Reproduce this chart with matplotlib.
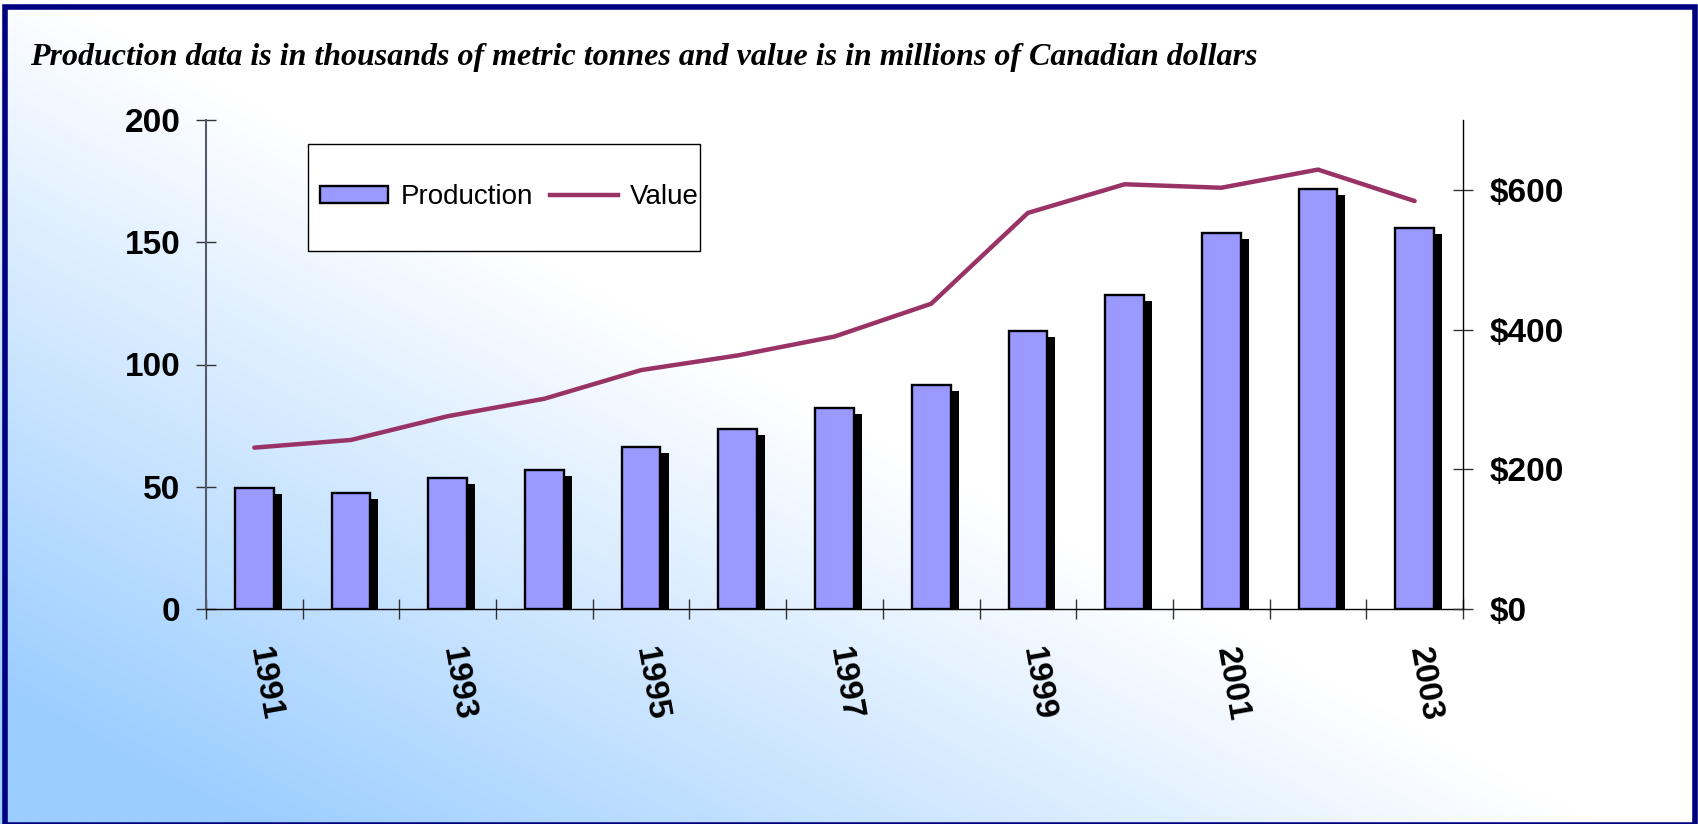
import numpy as np
import matplotlib
matplotlib.use("Agg")
import matplotlib.pyplot as plt
import matplotlib.patheffects as pe
import matplotlib.transforms as mtransforms
from matplotlib.patches import Rectangle, Patch
from matplotlib.lines import Line2D

plt.rcParams['font.family'] = ['Liberation Sans', 'DejaVu Sans']

# ---- data ----
years = [str(y) for y in range(1991, 2004)]
production = [49.5, 47.5, 53.7, 56.8, 66.4, 73.7, 82.1, 91.6, 113.7, 128.4, 153.8, 171.7, 155.8]
value = [231, 242, 276, 301, 342, 363, 390, 437, 567, 608, 603, 629, 584]
left_ticks = [0, 50, 100, 150, 200]
right_ticks = [0, 200, 400, 600]
right_labels = ["$0", "$200", "$400", "$600"]
title = "Production data is in thousands of metric tonnes and value is in millions of Canadian dollars"

W, H = 1699, 824
fig = plt.figure(figsize=(W / 100, H / 100), dpi=100)

# background gradient
bg = fig.add_axes([0, 0, 1, 1], zorder=-10)
bg.axis('off')
gw, gh = 400, 200
u = np.linspace(0, 1, gw)[None, :]
v = np.linspace(1, 0, gh)[:, None]
t = np.clip(1.17 - 1.25 * u - 1.13 * v, 0, 1)
base = np.array([155, 205, 255]) / 255.0
white = np.array([1.0, 1.0, 1.0])
img = white[None, None, :] * (1 - t[..., None]) + base[None, None, :] * t[..., None]
bg.imshow(img, extent=[0, 1, 0, 1], aspect='auto', interpolation='bilinear')
bg.set_xlim(0, 1)
bg.set_ylim(0, 1)

# main axes
ax = fig.add_axes([206 / W, 1 - 609 / H, (1463 - 206) / W, (609 - 120) / H])
ax.patch.set_alpha(0)
x = np.arange(len(years))
bars = ax.bar(x, production, width=0.4, color='#9999FF', edgecolor='black',
              linewidth=1.7, zorder=3)
for b in bars:
    b.set_path_effects([pe.SimplePatchShadow(offset=(5.8, -4.3), shadow_rgbFace='black', alpha=1.0),
                        pe.Normal()])
ax.set_xlim(-0.5, len(years) - 0.5)
ax.set_ylim(0, 200)
ax.spines['top'].set_visible(False)
ax.spines['right'].set_visible(False)
ax.spines['left'].set_color('#55596a')
ax.spines['left'].set_linewidth(1.5)
ax.spines['bottom'].set_color('black')
ax.spines['bottom'].set_linewidth(1.0)
ax.set_yticks(left_ticks, labels=[str(v_) for v_ in left_ticks], fontweight='bold', fontsize=24)
ax.tick_params(axis='y', direction='inout', length=15, width=1, color='#333333', pad=11)

ax.set_xticks(x[::2], labels=years[::2], rotation=-80, fontweight='bold', fontsize=24)
ax.set_xticks(np.arange(-0.5, len(years), 1), minor=True)
ax.tick_params(axis='x', which='major', length=0, pad=26)
ax.tick_params(axis='x', which='minor', direction='inout', length=15, width=1, color='#333333')
offset = mtransforms.ScaledTranslation(10 / 100, 0, fig.dpi_scale_trans)
for lab in ax.get_xticklabels():
    lab.set_transform(lab.get_transform() + offset)

# twin axes
ax2 = ax.twinx()
ax2.patch.set_alpha(0)
ax2.plot(x, value, color='#993366', lw=3.2, solid_capstyle='round', solid_joinstyle='round', zorder=4)
ax2.set_ylim(0, 700)
for s in ['top', 'left', 'bottom']:
    ax2.spines[s].set_visible(False)
ax2.spines['right'].set_color('black')
ax2.spines['right'].set_linewidth(1.0)
ax2.set_yticks(right_ticks, labels=right_labels, fontweight='bold', fontsize=24)
ax2.tick_params(axis='y', direction='inout', length=15, width=1, color='#333333', pad=12)

# legend box + legend
box = Rectangle((308 / W, 1 - 251 / H), 392 / W, 107 / H, transform=fig.transFigure,
                facecolor='white', edgecolor='black', linewidth=1, zorder=4)
fig.patches.append(box)
handles = [Patch(facecolor='#9999FF', edgecolor='black', linewidth=1.7),
           Line2D([], [], color='#993366', lw=3.2)]
fig.legend(handles, ['Production', 'Value'], loc='center left',
           bbox_to_anchor=(320 / W, 1 - 197 / H), ncol=2, frameon=False,
           fontsize=20, handlelength=2.45, handleheight=0.55, handletextpad=0.45,
           columnspacing=0.6, borderpad=0, borderaxespad=0)

# title
fig.text(30 / W, 1 - 57 / H, title, fontsize=23, style='italic', weight='bold',
         family=['Liberation Serif', 'DejaVu Serif'], va='center', ha='left')

# border
border = Rectangle((5.5 / W, -1 / H), (1695 - 5.5) / W, (825 - 6.7) / H,
                   transform=fig.transFigure, fill=False, edgecolor='#000080',
                   linewidth=4.0, clip_on=False, zorder=10)
fig.patches.append(border)

fig.savefig('out.png', dpi=100)
